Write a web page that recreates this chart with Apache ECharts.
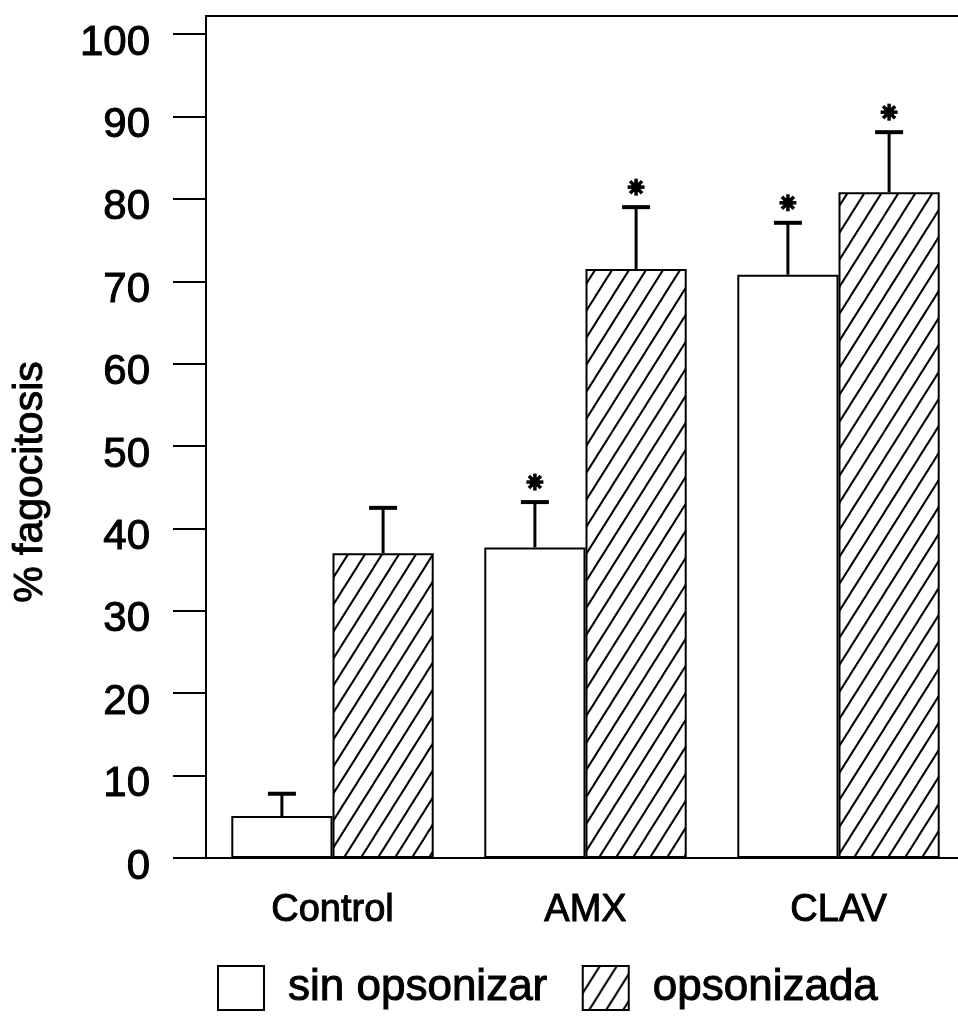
<!DOCTYPE html>
<html>
<head>
<meta charset="utf-8">
<script src="https://cdn.jsdelivr.net/npm/echarts@6/dist/echarts.min.js"></script>
<style>
html,body{margin:0;padding:0;background:#fff;}
#chart{width:958px;height:1016px;}
</style>
</head>
<body>
<div id="chart"></div>
<script>
const categories = ['Control', 'AMX', 'CLAV'];
const seriesNames = ['sin opsonizar', 'opsonizada'];
const sinOpsonizar = [5.1, 37.7, 70.8];
const sinOpsonizarErr = [2.7, 5.5, 6.3];
const sinOpsonizarSig = [0, 1, 1];
const opsonizada = [37.0, 71.5, 80.8];
const opsonizadaErr = [5.5, 7.5, 7.3];
const opsonizadaSig = [0, 1, 1];
const yTicks = [0, 10, 20, 30, 40, 50, 60, 70, 80, 90, 100];

function makeHatch() {
  const w = 17, h = 27;
  const c = document.createElement('canvas');
  c.width = w; c.height = h;
  const ctx = c.getContext('2d');
  ctx.fillStyle = '#fff';
  ctx.fillRect(0, 0, w, h);
  ctx.strokeStyle = '#000';
  ctx.lineWidth = 2;
  for (let k = -1; k <= 1; k++) {
    ctx.beginPath();
    ctx.moveTo(k * w - w, h + h);
    ctx.lineTo(k * w + 2 * w, -h);
    ctx.stroke();
  }
  return c;
}
const hatch = { image: makeHatch(), repeat: 'repeat' };

const errData = [];
categories.forEach((c, i) => {
  errData.push([i, sinOpsonizar[i], sinOpsonizar[i] + sinOpsonizarErr[i], -1, sinOpsonizarSig[i]]);
  errData.push([i, opsonizada[i], opsonizada[i] + opsonizadaErr[i], 1, opsonizadaSig[i]]);
});

const FONT = "'Liberation Sans', Arial, Helvetica, sans-serif";
const TB = { textBorderColor: '#000', textBorderWidth: 1 };
const chart = echarts.init(document.getElementById('chart'), null, { renderer: 'canvas' });

chart.setOption({
  animation: false,
  backgroundColor: '#fff',
  textStyle: { fontFamily: FONT, color: '#000' },
  grid: {
    left: 206, top: 16, right: -7, bottom: 158,
    containLabel: false,
    outerBoundsMode: 'none',
    show: true, borderColor: '#000', borderWidth: 2, backgroundColor: 'transparent'
  },
  legend: {
    data: seriesNames,
    left: 217, top: 965,
    padding: 0,
    icon: 'rect',
    itemWidth: 46, itemHeight: 44,
    itemGap: 34,
    itemStyle: { borderColor: '#000', borderWidth: 2 },
    textStyle: Object.assign({ fontSize: 44, color: '#000', fontFamily: FONT, padding: [0, 0, 0, 19] }, TB)
  },
  xAxis: {
    type: 'category',
    data: categories,
    axisLine: { lineStyle: { color: '#000', width: 2 } },
    axisTick: { show: false },
    axisLabel: Object.assign({ fontSize: 38, color: '#000', margin: 34, fontFamily: FONT }, TB)
  },
  yAxis: {
    type: 'value',
    min: 0, max: 102.2,
    name: '% fagocitosis',
    nameLocation: 'middle',
    nameRotate: 90,
    nameGap: 155,
    nameTextStyle: Object.assign({ fontSize: 41, color: '#000', fontFamily: FONT, padding: [0, 90, 0, 0] }, TB),
    splitLine: { show: false },
    axisLine: { show: true, lineStyle: { color: '#000', width: 2 } },
    axisTick: { show: true, length: 33, customValues: yTicks, lineStyle: { color: '#000', width: 2 } },
    axisLabel: Object.assign({ fontSize: 42, color: '#000', margin: 56, customValues: yTicks, fontFamily: FONT, verticalAlign: 'top', lineHeight: 18 }, TB)
  },
  series: [
    {
      name: seriesNames[0], type: 'bar', data: sinOpsonizar,
      barGap: '0%', barCategoryGap: '20%',
      itemStyle: { color: '#fff', borderColor: '#000', borderWidth: 2 }
    },
    {
      name: seriesNames[1], type: 'bar', data: opsonizada,
      barGap: '0%', barCategoryGap: '20%',
      itemStyle: { color: hatch, borderColor: '#000', borderWidth: 2 }
    },
    {
      name: 'err', type: 'custom', z: 10,
      data: errData,
      encode: { x: 0, y: [1, 2] },
      renderItem: function (params, api) {
        const ci = api.value(0), mean = api.value(1), top = api.value(2), side = api.value(3), sig = api.value(4);
        const band = api.size([1, 0])[0];
        const p0 = api.coord([ci, mean]);
        const p1 = api.coord([ci, top]);
        const x = p0[0] + side * band * 0.2;
        const children = [
          { type: 'line', shape: { x1: x, y1: p0[1], x2: x, y2: p1[1] }, style: { stroke: '#000', lineWidth: 3 } },
          { type: 'line', shape: { x1: x - 14, y1: p1[1], x2: x + 14, y2: p1[1] }, style: { stroke: '#000', lineWidth: 4 } }
        ];
        if (sig) {
          const cy = p1[1] - 20, r = 8.5;
          for (let a = 0; a < 4; a++) {
            const ang = a * Math.PI / 4;
            const dx = Math.cos(ang) * r, dy = Math.sin(ang) * r;
            children.push({ type: 'line', shape: { x1: x - dx, y1: cy - dy, x2: x + dx, y2: cy + dy }, style: { stroke: '#000', lineWidth: 3.5 } });
          }
          children.push({ type: 'circle', shape: { cx: x, cy: cy, r: 5 }, style: { fill: '#000' } });
        }
        return { type: 'group', children: children };
      }
    }
  ]
});
</script>
</body>
</html>
